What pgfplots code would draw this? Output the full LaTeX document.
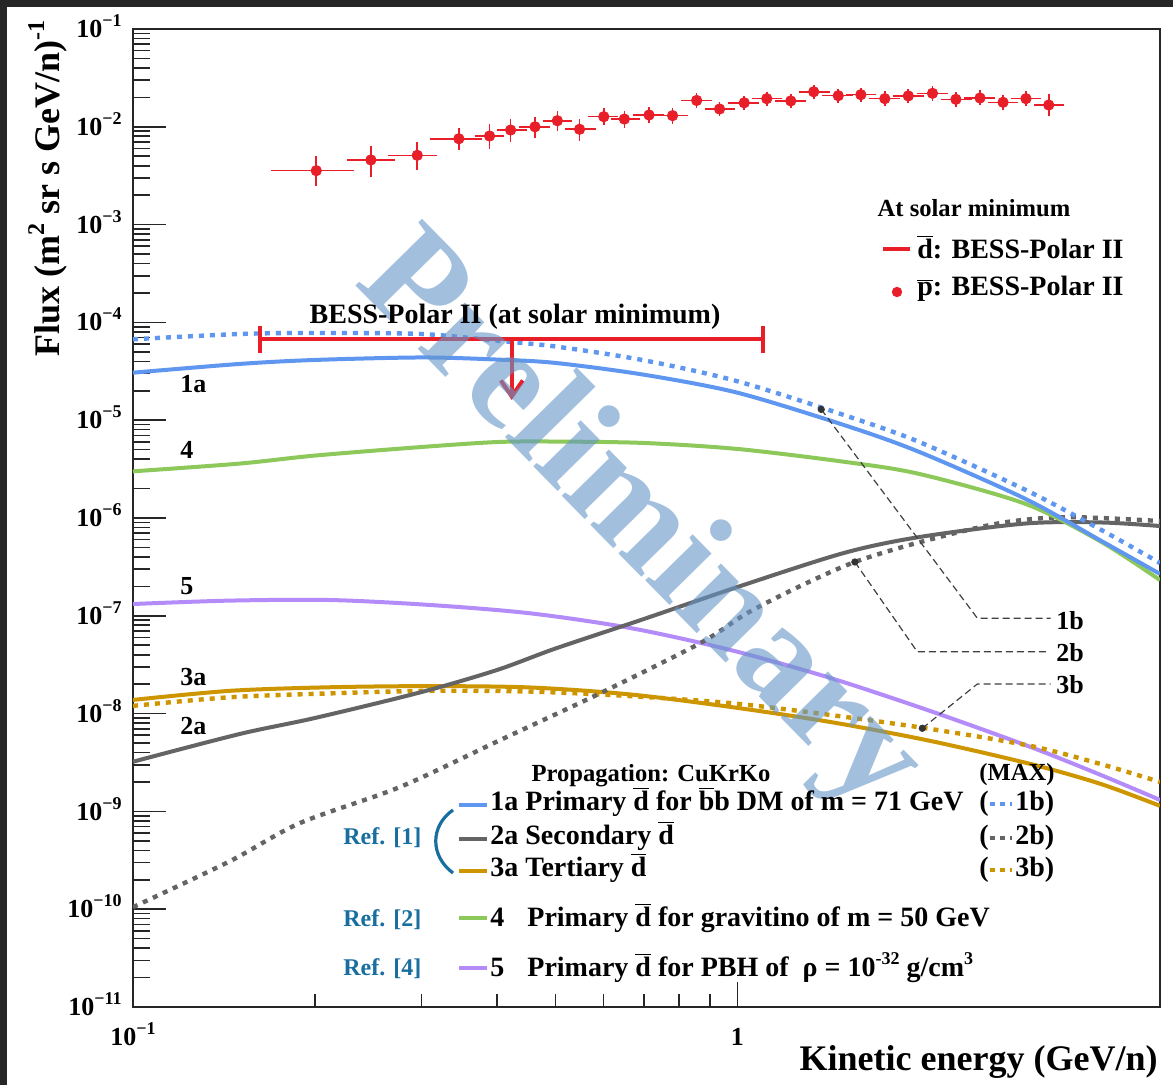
\documentclass[border=0pt]{standalone}
\usepackage{fontspec}
\setmainfont{Liberation Serif}
\usepackage{pgfplots}
\pgfplotsset{compat=1.18}
\usepackage{pgfplotstable}
\usetikzlibrary{arrows.meta}

\definecolor{cBlue}{RGB}{95,150,240}
\definecolor{cGrey}{RGB}{100,100,100}
\definecolor{cGold}{RGB}{205,150,0}
\definecolor{cGreen}{RGB}{140,200,90}
\definecolor{cPurple}{RGB}{180,140,250}
\definecolor{cRed}{RGB}{232,30,40}
\definecolor{cRef}{RGB}{25,110,160}
\definecolor{cMark}{RGB}{100,150,200}
\definecolor{cFrame}{RGB}{38,38,38}

\newcommand{\ob}[1]{\ensuremath{\overline{\hbox{#1}}}}
\newcommand{\fs}[1]{\fontsize{#1}{#1}\selectfont\bfseries}
\newcommand{\tp}[1]{10\raisebox{5.5pt}{\fontsize{9pt}{9pt}\selectfont #1}}
\newcommand{\sups}[1]{\raisebox{6pt}{\fontsize{9pt}{9pt}\selectfont #1}}
\newcommand{\bigsups}[1]{\raisebox{7.5pt}{\fontsize{12pt}{12pt}\selectfont #1}}

% BESS-Polar II antiproton flux: E, flux, bin edges, flux error range
\pgfplotstableread{
E      F         Elo     Ehi     Flo       Fhi
0.201  3.56e-3   0.1718  0.2291  2.68e-3   4.58e-3
0.2475 4.58e-3   0.2291  0.2679  3.35e-3   5.89e-3
0.2953 5.11e-3   0.2679  0.3145  3.97e-3   6.36e-3
0.346  7.55e-3   0.3145  0.3725  6.36e-3   8.91e-3
0.389  8.05e-3   0.3725  0.4052  6.51e-3   9.79e-3
0.4214 9.27e-3   0.4052  0.4417  7.62e-3   1.10e-2
0.4624 1.00e-2   0.4417  0.4829  8.44e-3   1.154e-2
0.5035 1.154e-2  0.4829  0.5252  9.79e-3   1.32e-2
0.548  9.43e-3   0.5252  0.5747  7.81e-3   1.10e-2
0.601  1.269e-2  0.5747  0.6256  1.127e-2  1.427e-2
0.650  1.20e-2   0.6256  0.6813  1.07e-2   1.34e-2
0.714  1.32e-2   0.6813  0.7467  1.19e-2   1.46e-2
0.781  1.30e-2   0.7467  0.8180  1.17e-2   1.44e-2
0.856  1.86e-2   0.8180  0.8943  1.70e-2   2.03e-2
0.934  1.52e-2   0.8943  0.9785  1.39e-2   1.66e-2
1.026  1.76e-2   0.9785  1.0710  1.62e-2   1.91e-2
1.118  1.94e-2   1.0710  1.1706  1.79e-2   2.10e-2
1.225  1.84e-2   1.1706  1.2801  1.70e-2   1.99e-2
1.337  2.28e-2   1.2801  1.4014  2.11e-2   2.46e-2
1.468  2.08e-2   1.4014  1.5324  1.92e-2   2.25e-2
1.600  2.13e-2   1.5324  1.6749  1.96e-2   2.31e-2
1.753  1.94e-2   1.6749  1.8336  1.78e-2   2.11e-2
1.917  2.07e-2   1.8336  2.0068  1.90e-2   2.25e-2
2.102  2.20e-2   2.0068  2.1987  2.02e-2   2.40e-2
2.298  1.91e-2   2.1987  2.4060  1.75e-2   2.08e-2
2.519  1.97e-2   2.4060  2.6316  1.80e-2   2.16e-2
2.750  1.78e-2   2.6316  2.8729  1.62e-2   1.96e-2
3.001  1.94e-2   2.8729  3.1347  1.76e-2   2.14e-2
3.273  1.67e-2   3.1347  3.4255  1.39e-2   2.00e-2
}\pbar

% 1a: primary dbar, bbar-b DM, m = 71 GeV
\pgfplotstableread{
E    F
0.1  3.06e-5
0.15 3.76e-5
0.2  4.13e-5
0.3  4.38e-5
0.4  4.17e-5
0.5  3.85e-5
0.7  2.92e-5
1    1.91e-5
1.5  8.93e-6
2    4.73e-6
3    1.56e-6
4    5.82e-7
5    2.68e-7
}\curveOneA

% 1b: same, MAX propagation
\pgfplotstableread{
E    F
0.1  6.72e-5
0.15 7.61e-5
0.2  7.80e-5
0.3  7.61e-5
0.4  6.50e-5
0.5  5.67e-5
0.7  4.10e-5
1    2.50e-5
1.5  1.13e-5
2    5.98e-6
3    1.93e-6
4    7.54e-7
5    3.47e-7
}\curveOneB

% 4: gravitino, m = 50 GeV
\pgfplotstableread{
E    F
0.1  3.00e-6
0.15 3.60e-6
0.2  4.35e-6
0.3  5.32e-6
0.4  5.98e-6
0.5  6.05e-6
0.7  5.85e-6
1    5.08e-6
1.5  3.76e-6
2    2.82e-6
3    1.39e-6
4    5.69e-7
5    2.32e-7
}\curveFour

% 2a: secondary dbar
\pgfplotstableread{
E    F
0.1  3.22e-9
0.15 6.18e-9
0.2  9.02e-9
0.3  1.66e-8
0.4  2.79e-8
0.5  4.63e-8
0.7  9.27e-8
1    1.97e-7
1.5  4.39e-7
2    6.39e-7
3    8.79e-7
4    9.00e-7
5    8.28e-7
}\curveTwoA

% 2b: secondary dbar, MAX
\pgfplotstableread{
E      F
0.1    1.05e-10
0.1447 3.10e-10
0.189  7.61e-10
0.2767 1.78e-9
0.4052 5.37e-9
0.5932 1.62e-8
0.8685 5.27e-8
1.039  1.07e-7
1.2716 2.02e-7
1.564  3.55e-7
2.009  5.69e-7
2.725  8.89e-7
3.519  1.02e-6
5.0    9.31e-7
}\curveTwoB

% 3a: tertiary dbar
\pgfplotstableread{
E      F
0.1    1.38e-8
0.1447 1.71e-8
0.2119 1.86e-8
0.3102 1.91e-8
0.4543 1.85e-8
0.665  1.57e-8
0.9737 1.17e-8
1.4256 8.20e-9
2.087  5.25e-9
3.056  3.05e-9
3.99   1.91e-9
5.0    1.14e-9
}\curveThreeA

% 3b: tertiary dbar, MAX
\pgfplotstableread{
E      F
0.1    1.20e-8
0.1447 1.47e-8
0.2119 1.61e-8
0.3102 1.71e-8
0.4543 1.68e-8
0.665  1.51e-8
0.9737 1.28e-8
1.4256 9.68e-9
2.087  6.96e-9
3.056  4.67e-9
3.99   3.05e-9
5.0    2.00e-9
}\curveThreeB

% 5: PBH, rho = 1e-32 g/cm^3
\pgfplotstableread{
E      F
0.1    1.32e-7
0.1447 1.43e-7
0.2119 1.45e-7
0.3102 1.29e-7
0.4543 1.06e-7
0.665  7.50e-8
0.9737 4.47e-8
1.4256 2.31e-8
2.087  1.06e-8
3.056  4.55e-9
3.99   2.36e-9
5.0    1.31e-9
}\curveFive

\pgfplotsset{
  solidc/.style={line width=2pt, smooth},
  dotc/.style={line width=2.2pt, smooth, dash pattern=on 2.5pt off 3pt},
}

\begin{document}
\begin{tikzpicture}
\path[use as bounding box, fill=cFrame] (0,0) rectangle (586.5pt,542.5pt);
\fill[white] (3.5pt,0) rectangle (586.5pt,539pt);

% x ticks (shorter than the y ticks)
\begin{axis}[at={(66.5pt,39pt)}, anchor=south west, scale only axis,
  width=513.5pt, height=489pt, xmode=log, ymode=log,
  xmin=0.1, xmax=5, ymin=1e-11, ymax=1e-1,
  tick align=inside, tick pos=left,
  axis line style={draw=none},
  ytick=\empty, yminorticks=false,
  xtick={0.1,1}, xticklabels={\tp{−1},1},
  major tick length=12.5pt, minor tick length=6.5pt,
  tick style={line width=0.8pt, draw=black!85},
  xticklabel style={font=\fs{13pt}, anchor=base, inner sep=0pt, yshift=-19.3pt}]
\end{axis}

\begin{axis}[at={(66.5pt,39pt)}, anchor=south west, scale only axis,
  width=513.5pt, height=489pt, xmode=log, ymode=log,
  xmin=0.1, xmax=5, ymin=1e-11, ymax=1e-1,
  tick align=inside, tick pos=left,
  axis line style={line width=1pt, draw=black!85},
  xtick=\empty, xminorticks=false,
  ytick={1e-11,1e-10,1e-9,1e-8,1e-7,1e-6,1e-5,1e-4,1e-3,1e-2,1e-1},
  yticklabels={\tp{−11},\tp{−10},\tp{−9},\tp{−8},\tp{−7},\tp{−6},\tp{−5},\tp{−4},\tp{−3},\tp{−2},\tp{−1}},
  major tick length=16.5pt, minor tick length=8.5pt,
  tick style={line width=0.8pt, draw=black!85},
  yticklabel style={font=\fs{13pt}, anchor=base east, inner sep=0pt, xshift=-5.5pt, yshift=-4.3pt}]

  \addplot[cPurple, solidc] table[x=E,y=F] {\curveFive};
  \addplot[cGold, dotc] table[x=E,y=F] {\curveThreeB};
  \addplot[cGold, solidc] table[x=E,y=F] {\curveThreeA};
  \addplot[cGrey, dotc] table[x=E,y=F] {\curveTwoB};
  \addplot[cGrey, solidc] table[x=E,y=F] {\curveTwoA};
  \addplot[cGreen, solidc] table[x=E,y=F] {\curveFour};
  \addplot[cBlue, dotc] table[x=E,y=F] {\curveOneB};
  \addplot[cBlue, solidc] table[x=E,y=F] {\curveOneA};

  % antiprotons
  \addplot[cRed, only marks, mark=*, mark size=2.6pt,
    error bars/.cd, x dir=both, y dir=both, x explicit, y explicit,
    error bar style={line width=0.8pt, cRed},
    error mark options={cRed, line width=0.8pt, mark size=1.8pt}]
    table[x=E, y=F,
      x error minus expr=\thisrow{E}-\thisrow{Elo},
      x error plus expr=\thisrow{Ehi}-\thisrow{E},
      y error minus expr=\thisrow{F}-\thisrow{Flo},
      y error plus expr=\thisrow{Fhi}-\thisrow{F}] {\pbar};

  % antideuteron upper limit
  \addplot[cRed, line width=2pt] coordinates {(0.1623,6.71e-5) (1.104,6.71e-5)};
  \addplot[cRed, line width=2pt] coordinates {(0.1623,4.86e-5) (0.1623,9.19e-5)};
  \addplot[cRed, line width=2pt] coordinates {(1.104,4.86e-5) (1.104,9.19e-5)};
  \addplot[cRed, line width=2pt, -{Straight Barb[length=8pt,width=11pt]}]
    coordinates {(0.4233,6.71e-5) (0.4233,1.61e-5)};

  % MAX-curve callouts
  \addplot[only marks, mark=*, mark size=1.6pt, black!80]
    coordinates {(1.376,1.29e-5) (1.564,3.55e-7) (2.022,7.08e-9)};
  \draw[black!75, line width=0.6pt, dash pattern=on 3.5pt off 2pt]
    (axis cs:1.376,1.29e-5) -- (axis cs:2.494,9.43e-8) -- (axis cs:3.298,9.43e-8);
  \draw[black!75, line width=0.6pt, dash pattern=on 3.5pt off 2pt]
    (axis cs:1.564,3.55e-7) -- (axis cs:1.984,4.29e-8) -- (axis cs:3.273,4.29e-8);
  \draw[black!75, line width=0.6pt, dash pattern=on 3.5pt off 2pt]
    (axis cs:2.022,7.08e-9) -- (axis cs:2.494,2.01e-8) -- (axis cs:3.298,2.01e-8);
\end{axis}

\begin{scope}[x=0.5pt, y=-0.5pt, shift={(0pt,542.5pt)}]
  % watermark
  \node[rotate=-45.5, text=cMark, text opacity=0.6,
        font=\fontsize{72pt}{72pt}\selectfont\bfseries] at (638,524) {Preliminary};

  % axis titles
  \node[anchor=base east, inner sep=0pt, font=\fs{18pt}] at (1158,1071)
    {Kinetic energy (GeV/n)};
  \node[rotate=90, anchor=base east, inner sep=0pt, font=\fs{18pt}] at (59,20)
    {Flux (m\bigsups{2} sr s GeV/n)\bigsups{-1}};

  % curve tags
  \begin{scope}[every node/.style={anchor=base west, inner sep=0pt, font=\fs{13pt}}]
    \node at (180,393) {1a};
    \node at (180,459) {4};
    \node at (180,595) {5};
    \node at (180,686) {3a};
    \node at (180,735) {2a};
    \node at (1056,630) {1b};
    \node at (1056,662) {2b};
    \node at (1056,694) {3b};
  \end{scope}

  % limit label
  \node[anchor=base, inner sep=0pt, font=\fs{14pt}] at (515,324)
    {BESS-Polar II (at solar minimum)};

  % upper-right legend
  \node[anchor=base, inner sep=0pt, font=\fs{12.3pt}] at (974,217) {At solar minimum};
  \draw[cRed, line width=2pt] (883,249) -- (910,249);
  \fill[cRed] (897,292) circle (2.6pt);
  \node[anchor=base west, inner sep=0pt, font=\fs{14pt}] at (917,259) {\ob{d}: BESS-Polar II};
  \node[anchor=base west, inner sep=0pt, font=\fs{14pt}] at (917,296) {\ob{p}: BESS-Polar II};

  % lower legend
  \node[anchor=base, inner sep=0pt, font=\fs{12.3pt}] at (651,782) {Propagation: CuKrKo};
  \node[anchor=base, inner sep=0pt, font=\fs{12.3pt}] at (1017,781) {(MAX)};

  \draw[cBlue, line width=2pt] (459,805) -- (487,805);
  \draw[cGrey, line width=2pt] (459,839) -- (487,839);
  \draw[cGold, line width=2pt] (459,871) -- (487,871);
  \draw[cGreen, line width=2pt] (459,918) -- (487,918);
  \draw[cPurple, line width=2pt] (459,968) -- (487,968);

  \begin{scope}[every node/.style={anchor=base west, inner sep=0pt, font=\fs{14pt}}]
    \node at (490,811) {1a Primary \ob{d} for\ \ob{b}b DM of m = 71 GeV};
    \node at (490,845) {2a Secondary \ob{d}};
    \node at (490,877) {3a Tertiary \ob{d}};
    \node at (490,927) {4};
    \node at (527,927) {Primary \ob{d} for gravitino of m = 50 GeV};
    \node at (490,977) {5};
    \node at (527,977) {Primary \ob{d} for PBH of\ \ ρ = 10\sups{-32} g/cm\sups{3}};
    \node at (979,811) {(};
    \node at (1015,811) {1b)};
    \node at (979,845) {(};
    \node at (1015,845) {2b)};
    \node at (979,877) {(};
    \node at (1015,877) {3b)};
  \end{scope}
  \draw[cBlue, line width=2pt, dash pattern=on 2.5pt off 2.5pt] (990,804) -- (1012,804);
  \draw[cGrey, line width=2pt, dash pattern=on 2.5pt off 2.5pt] (990,838) -- (1012,838);
  \draw[cGold, line width=2pt, dash pattern=on 2.5pt off 2.5pt] (990,870) -- (1012,870);

  \begin{scope}[every node/.style={anchor=base west, inner sep=0pt, font=\fs{12pt}, text=cRef}]
    \node at (343,845) {Ref. [1]};
    \node at (343,927) {Ref. [2]};
    \node at (343,976) {Ref. [4]};
  \end{scope}
  \draw[cRef, line width=1.6pt] (453,810) .. controls (430,826) and (430,856) .. (453,873);
\end{scope}
\end{tikzpicture}
\end{document}
